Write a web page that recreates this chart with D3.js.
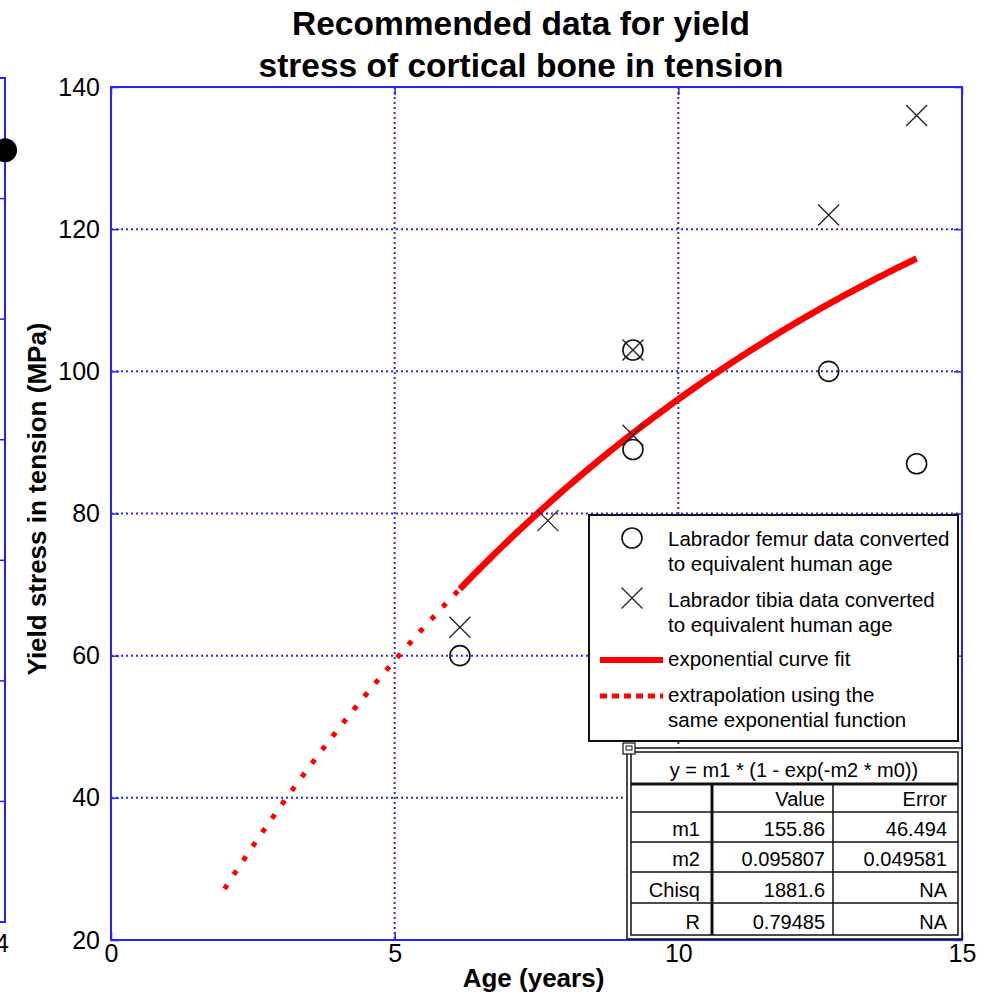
<!DOCTYPE html>
<html>
<head>
<meta charset="utf-8">
<script src="https://cdn.jsdelivr.net/npm/d3@7"></script>
<style>
  html, body { margin: 0; padding: 0; background: #fff; }
  svg { display: block; font-family: Arial, "Liberation Sans", sans-serif; }
</style>
</head>
<body>
<svg id="chart" width="992" height="998"></svg>
<script>
// ---- data ----
const femurAge    = [6.15, 9.2, 9.2, 12.65, 14.2];
const femurStress = [60, 89, 103, 100, 87];
const tibiaAge    = [6.15, 7.7, 9.2, 9.2, 12.65, 14.2];
const tibiaStress = [64, 79, 91, 103, 122, 136];

// fitted parameters of y = m1 * (1 - exp(-m2 * m0))
const m1 = 155.86;
const m2 = 0.095807;
const fitRange = [6.15, 14.2];     // ages covered by the measurements
const extrapRange = [2, 6.15];     // extrapolated ages

const xTicks = [0, 5, 10, 15];
const yTicks = [20, 40, 60, 80, 100, 120, 140];

const tableTitle = "y = m1 * (1 - exp(-m2 * m0))";
const tableHeader = ["", "Value", "Error"];
const tableRows = [
  ["m1", "155.86", "46.494"],
  ["m2", "0.095807", "0.049581"],
  ["Chisq", "1881.6", "NA"],
  ["R", "0.79485", "NA"]
];

const legendItems = [
  { kind: "circle", lines: ["Labrador femur data converted", "to equivalent human age"] },
  { kind: "cross",  lines: ["Labrador tibia data converted", "to equivalent human age"] },
  { kind: "solid",  lines: ["exponential curve fit"] },
  { kind: "dotted", lines: ["extrapolation using the", "same exponential function"] }
];

// neighbouring panel (partly visible at the left edge)
const sideTicks = [1, 2, 3, 4, 5, 6];
const sidePoint = 6.4;

// ---- layout ----
const svg = d3.select("#chart");
const blue = "#2424ff";
const gridBlue = "#2a2aee";
const plotL = 111, plotR = 962, plotT = 87, plotB = 940;

const x = d3.scaleLinear().domain([0, 15]).range([plotL, plotR]);
const y = d3.scaleLinear().domain([20, 140]).range([plotB, plotT]);

// neighbouring panel frame
const ys = d3.scaleLinear().domain([0, 7]).range([922, 78]);
const side = svg.append("g");
side.append("path")
  .attr("d", `M-5,${ys(7)}H5V${ys(0)}H-5`)
  .attr("fill", "none").attr("stroke", blue).attr("stroke-width", 2);
side.selectAll("line.tk").data(sideTicks).join("line")
  .attr("x1", 0).attr("x2", 5)
  .attr("y1", d => ys(d)).attr("y2", d => ys(d))
  .attr("stroke", blue).attr("stroke-width", 1.5);
side.append("circle").attr("cx", 5).attr("cy", ys(sidePoint)).attr("r", 12).attr("fill", "#000");
side.append("text").attr("x", 2).attr("y", 952).attr("text-anchor", "middle")
  .attr("font-size", 25).text("4");

// grid
const grid = svg.append("g")
  .attr("stroke", gridBlue).attr("stroke-width", 2).attr("stroke-dasharray", "2,3");
grid.selectAll("line.gx").data(xTicks.slice(1, -1)).join("line")
  .attr("x1", d => x(d)).attr("x2", d => x(d)).attr("y1", plotT).attr("y2", plotB);
grid.selectAll("line.gy").data(yTicks.slice(1, -1)).join("line")
  .attr("y1", d => y(d)).attr("y2", d => y(d)).attr("x1", plotL).attr("x2", plotR);

// axes (inward ticks on all four sides)
const axisStyle = g => {
  g.select(".domain").remove();
  g.selectAll(".tick line").attr("stroke", blue).attr("stroke-width", 1.5);
  g.selectAll(".tick text").attr("fill", "#000").attr("font-size", 25)
    .attr("font-family", 'Arial, "Liberation Sans", sans-serif');
};
svg.append("g").attr("transform", `translate(0,${plotB})`)
  .call(d3.axisBottom(x).tickValues(xTicks).tickSize(-8).tickPadding(3).tickFormat(d3.format("d")))
  .call(axisStyle)
  .call(g => g.selectAll(".tick text").attr("dy", "0.71em").attr("y", 4));
svg.append("g").attr("transform", `translate(0,${plotT})`)
  .call(d3.axisTop(x).tickValues(xTicks).tickSize(-8).tickFormat(""))
  .call(axisStyle);
svg.append("g").attr("transform", `translate(${plotL},0)`)
  .call(d3.axisLeft(y).tickValues(yTicks).tickSize(-8).tickPadding(11).tickFormat(d3.format("d")))
  .call(axisStyle);
svg.append("g").attr("transform", `translate(${plotR},0)`)
  .call(d3.axisRight(y).tickValues(yTicks).tickSize(-8).tickFormat(""))
  .call(axisStyle);

svg.append("rect")
  .attr("x", plotL).attr("y", plotT).attr("width", plotR - plotL).attr("height", plotB - plotT)
  .attr("fill", "none").attr("stroke", blue).attr("stroke-width", 2);

// fitted curve and its extrapolation
const fit = a => m1 * (1 - Math.exp(-m2 * a));
const sampleAges = ([a0, a1]) => d3.range(a0, a1, 0.05).concat([a1]);
const curve = d3.line().x(a => x(a)).y(a => y(fit(a)));

svg.append("path").datum(sampleAges(extrapRange))
  .attr("d", curve).attr("fill", "none").attr("stroke", "#ff0000")
  .attr("stroke-width", 5).attr("stroke-dasharray", "5,12");
svg.append("path").datum(sampleAges(fitRange))
  .attr("d", curve).attr("fill", "none").attr("stroke", "#ff0000")
  .attr("stroke-width", 6.5).attr("stroke-linejoin", "round");

// markers
const mk = 10.5;
const crossPath = (cx, cy, s) => `M${cx - s},${cy - s}L${cx + s},${cy + s}M${cx - s},${cy + s}L${cx + s},${cy - s}`;

svg.append("g").selectAll("circle").data(d3.zip(femurAge, femurStress)).join("circle")
  .attr("cx", d => x(d[0])).attr("cy", d => y(d[1])).attr("r", 10)
  .attr("fill", "none").attr("stroke", "#111").attr("stroke-width", 1.6);
svg.append("g").selectAll("path").data(d3.zip(tibiaAge, tibiaStress)).join("path")
  .attr("d", d => crossPath(x(d[0]), y(d[1]), mk))
  .attr("fill", "none").attr("stroke", "#222").attr("stroke-width", 1.3);

// titles
const titleX = 521;
const title = svg.append("text").attr("text-anchor", "middle")
  .attr("font-size", 33.5).attr("font-weight", "bold");
title.append("tspan").attr("x", titleX).attr("y", 35).text("Recommended data for yield");
title.append("tspan").attr("x", titleX).attr("y", 77).text("stress of cortical bone in tension");

svg.append("text").attr("x", (plotL + plotR) / 2 - 3).attr("y", 987)
  .attr("text-anchor", "middle").attr("font-size", 26).attr("font-weight", "bold")
  .text("Age (years)");
svg.append("text").attr("transform", "translate(46,499) rotate(-90)")
  .attr("text-anchor", "middle").attr("font-size", 26).attr("font-weight", "bold")
  .text("Yield stress in tension (MPa)");

// legend
const lg = svg.append("g");
lg.append("rect").attr("x", 589).attr("y", 515).attr("width", 369).attr("height", 226)
  .attr("fill", "#fff").attr("stroke", "#111").attr("stroke-width", 2);
const lineBase = [546, 607, 666, 702];
legendItems.forEach((it, i) => {
  const by = lineBase[i];
  const cy = by - 8;
  if (it.kind === "circle") {
    lg.append("circle").attr("cx", 632).attr("cy", cy).attr("r", 10)
      .attr("fill", "none").attr("stroke", "#111").attr("stroke-width", 1.6);
  } else if (it.kind === "cross") {
    lg.append("path").attr("d", crossPath(632, cy - 1, mk))
      .attr("fill", "none").attr("stroke", "#222").attr("stroke-width", 1.3);
  } else {
    lg.append("line").attr("x1", 600).attr("x2", 663).attr("y1", cy + 2).attr("y2", cy + 2)
      .attr("stroke", "#ff0000").attr("stroke-width", it.kind === "solid" ? 6 : 5)
      .attr("stroke-dasharray", it.kind === "solid" ? null : "7,5");
  }
  const t = lg.append("text").attr("font-size", 20.5).attr("fill", "#000");
  it.lines.forEach((s, k) => t.append("tspan").attr("x", 668).attr("y", by + k * 25).text(s));
});

// parameter table
const tb = svg.append("g");
const tL = 627, tR = 962, tT = 748, tB = 939;
tb.append("rect").attr("x", tL).attr("y", tT).attr("width", tR - tL).attr("height", tB - tT)
  .attr("fill", "#fff").attr("stroke", "#111").attr("stroke-width", 1.5);
tb.append("rect").attr("x", tL + 4).attr("y", tT + 4).attr("width", tR - tL - 8).attr("height", tB - tT - 8)
  .attr("fill", "none").attr("stroke", "#111").attr("stroke-width", 1.5);
// small handle box at the top-left corner
tb.append("rect").attr("x", 623).attr("y", 743).attr("width", 12).attr("height", 11)
  .attr("fill", "#fff").attr("stroke", "#111").attr("stroke-width", 1.2);
tb.append("rect").attr("x", 626).attr("y", 746).attr("width", 6).attr("height", 4)
  .attr("fill", "none").attr("stroke", "#111").attr("stroke-width", 1);

const rowY = [785, 812, 842, 872, 903, 935];
tb.append("line").attr("x1", 631).attr("x2", 958).attr("y1", 784).attr("y2", 784)
  .attr("stroke", "#111").attr("stroke-width", 3);
rowY.slice(1, -1).forEach(yy => tb.append("line").attr("x1", 631).attr("x2", 958)
  .attr("y1", yy).attr("y2", yy).attr("stroke", "#111").attr("stroke-width", 1.5));
tb.append("line").attr("x1", 712).attr("x2", 712).attr("y1", 785).attr("y2", 935)
  .attr("stroke", "#111").attr("stroke-width", 3);
tb.append("line").attr("x1", 833).attr("x2", 833).attr("y1", 785).attr("y2", 935)
  .attr("stroke", "#111").attr("stroke-width", 1.5);

tb.append("text").attr("x", 794).attr("y", 777).attr("text-anchor", "middle")
  .attr("font-size", 20).text(tableTitle);
const cellRight = [700, 825, 947];
[tableHeader].concat(tableRows).forEach((row, r) => {
  row.forEach((s, c) => {
    if (!s) return;
    tb.append("text").attr("x", cellRight[c]).attr("y", rowY[r + 1] - 6)
      .attr("text-anchor", "end").attr("font-size", 20).text(s);
  });
});
</script>
</body>
</html>
